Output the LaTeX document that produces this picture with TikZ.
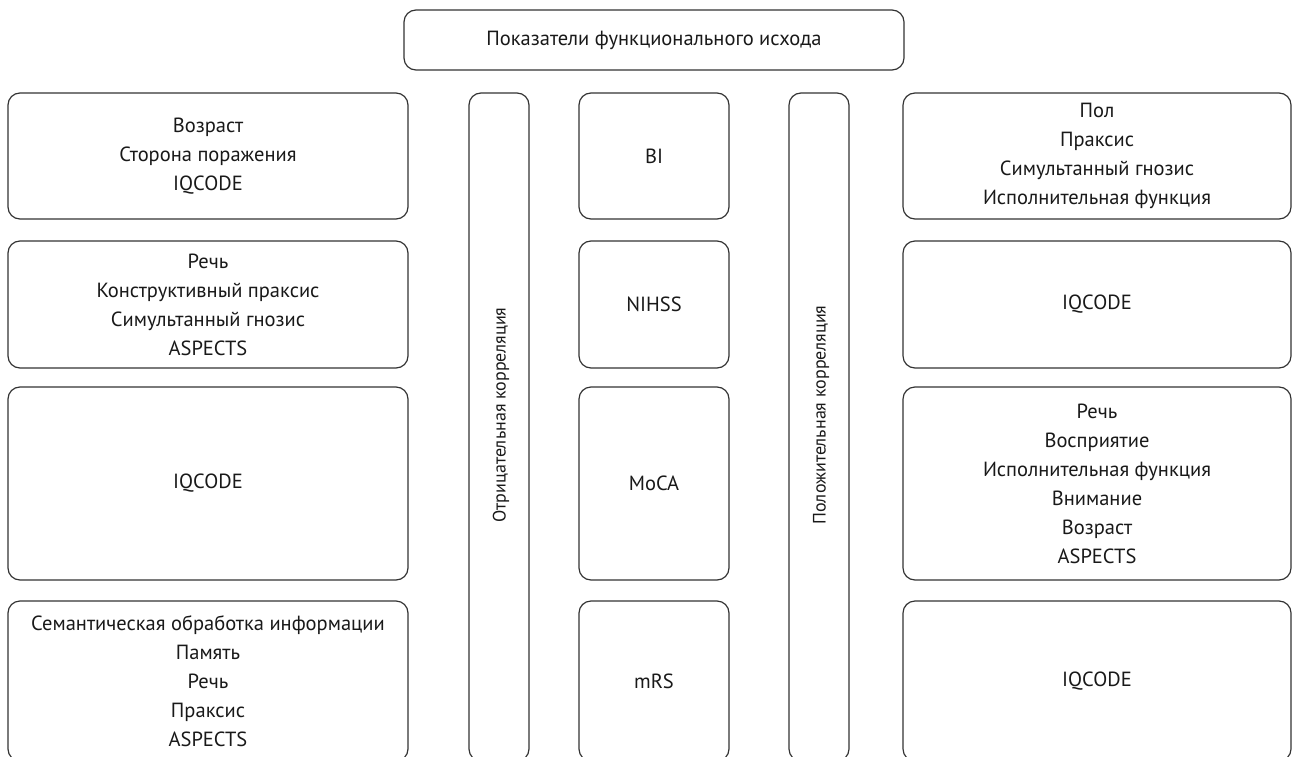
\documentclass[tikz,border=0pt]{standalone}
\usepackage{fontspec}
\setmainfont{PT Sans}
\begin{document}
\begin{tikzpicture}[x=1pt, y=-1pt,
  boxline/.style={draw=black!80, line width=1.2pt, rounded corners=12pt},
  box/.style={boxline, align=center, inner sep=0pt, text=black!90,
    font=\fontsize{20.5}{29}\selectfont},
  barlabel/.style={rotate=90, inner sep=0pt, text=black!90,
    font=\fontsize{18}{24}\selectfont}]
\useasboundingbox (0,0) rectangle (1292,757);
\clip (0,0) rectangle (1292,757);
% Title
\node[box, minimum width=500, minimum height=60] (title) at (654,40) {Показатели функционального исхода};
% Left column
\node[box, minimum width=400, minimum height=126] (left1) at (208,156) {Возраст\\Сторона поражения\\IQCODE};
\node[box, minimum width=400, minimum height=127] (left2) at (208,304.5) {Речь\\Конструктивный праксис\\Симультанный гнозис\\ASPECTS};
\node[box, minimum width=400, minimum height=193] (left3) at (208,483.5) {IQCODE};
\node[box, minimum width=400, minimum height=160] (left4) at (208,681) {Семантическая обработка информации\\Память\\Речь\\Праксис\\ASPECTS};
% Correlation bars
\node[boxline, minimum width=60, minimum height=668] (negbar) at (499,427) {};
\node[barlabel] (neglbl) at (501,415) {Отрицательная корреляция};
\node[boxline, minimum width=60, minimum height=668] (posbar) at (819,427) {};
\node[barlabel] (poslbl) at (821,415) {Положительная корреляция};
% Middle column
\node[box, minimum width=150, minimum height=126] (bi) at (654,156) {BI};
\node[box, minimum width=150, minimum height=127] (nihss) at (654,304.5) {NIHSS};
\node[box, minimum width=150, minimum height=193] (moca) at (654,483.5) {MoCA};
\node[box, minimum width=150, minimum height=160] (mrs) at (654,681) {mRS};
% Right column
\node[box, minimum width=388, minimum height=126] (right1) at (1097,156) {Пол\\Праксис\\Симультанный гнозис\\Исполнительная функция};
\node[box, minimum width=388, minimum height=127] (right2) at (1097,304.5) {IQCODE};
\node[box, minimum width=388, minimum height=193] (right3) at (1097,483.5) {Речь\\Восприятие\\Исполнительная функция\\Внимание\\Возраст\\ASPECTS};
\node[box, minimum width=388, minimum height=160] (right4) at (1097,681) {IQCODE};
\end{tikzpicture}
\end{document}
